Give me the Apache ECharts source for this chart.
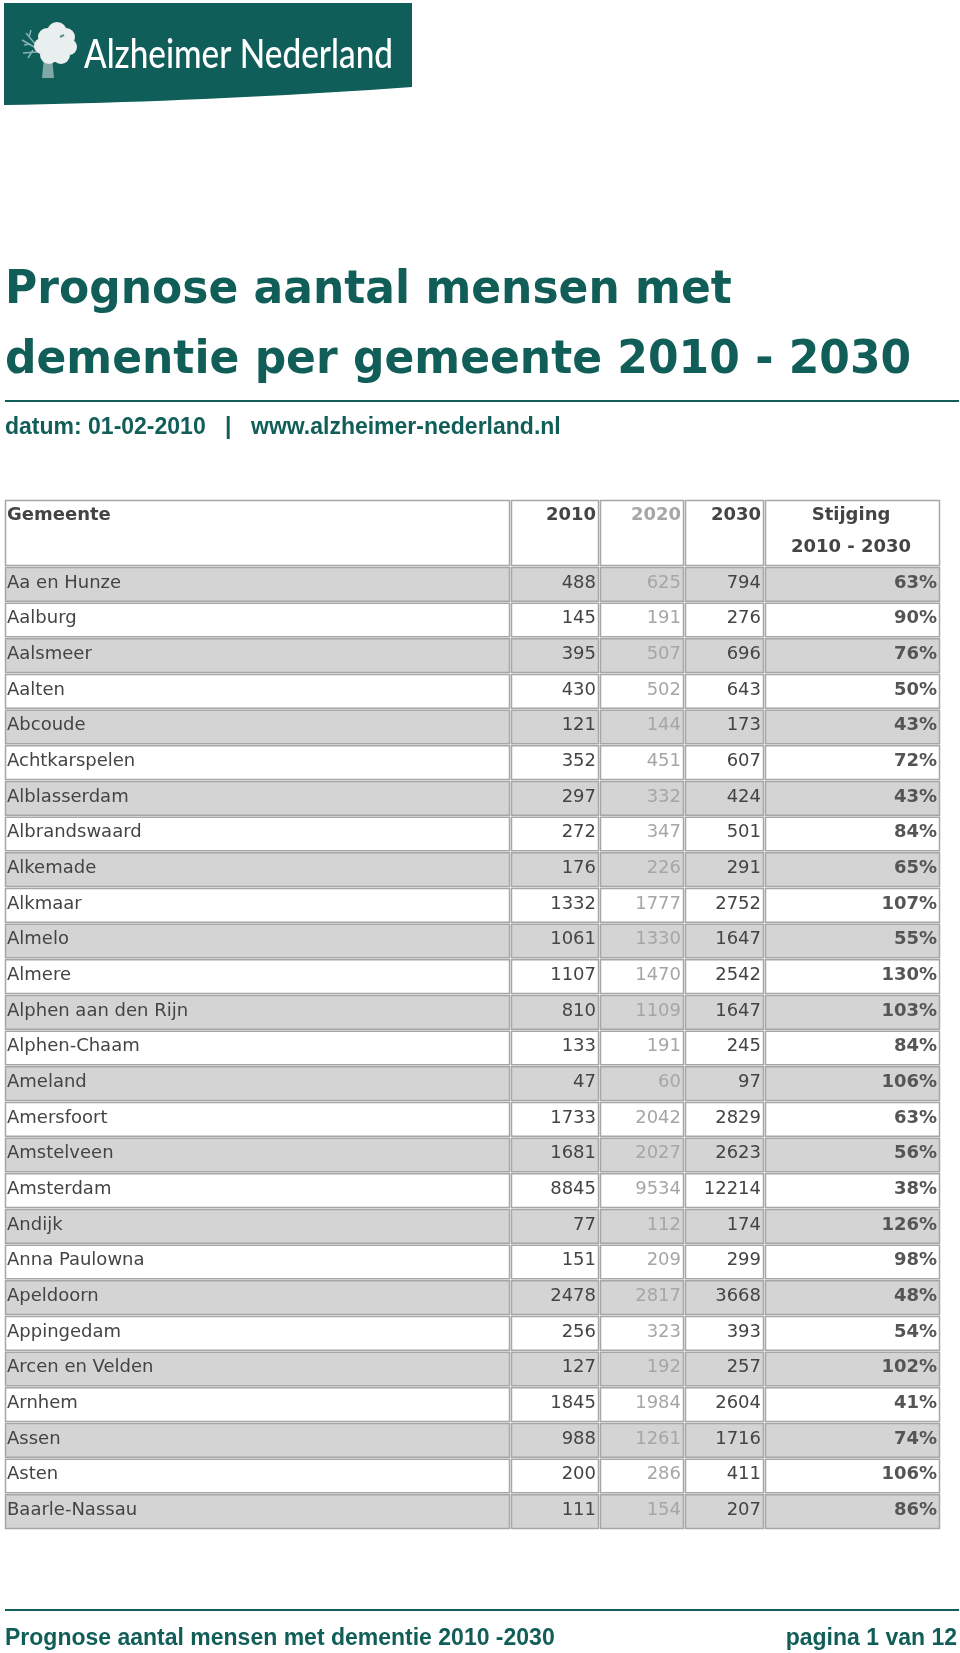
<!DOCTYPE html>
<html><head><meta charset="utf-8">
<script src="https://cdn.jsdelivr.net/npm/echarts@6/dist/echarts.min.js"></script>
<style>html,body{margin:0;padding:0;background:#fff}#c{width:960px;height:1653px}</style>
</head><body><div id="c"></div><script>
// ---- data ----
const gemeenten = ['Aa en Hunze','Aalburg','Aalsmeer','Aalten','Abcoude','Achtkarspelen','Alblasserdam','Albrandswaard','Alkemade','Alkmaar','Almelo','Almere','Alphen aan den Rijn','Alphen-Chaam','Ameland','Amersfoort','Amstelveen','Amsterdam','Andijk','Anna Paulowna','Apeldoorn','Appingedam','Arcen en Velden','Arnhem','Assen','Asten','Baarle-Nassau'];
const v2010 = [488,145,395,430,121,352,297,272,176,1332,1061,1107,810,133,47,1733,1681,8845,77,151,2478,256,127,1845,988,200,111];
const v2020 = [625,191,507,502,144,451,332,347,226,1777,1330,1470,1109,191,60,2042,2027,9534,112,209,2817,323,192,1984,1261,286,154];
const v2030 = [794,276,696,643,173,607,424,501,291,2752,1647,2542,1647,245,97,2829,2623,12214,174,299,3668,393,257,2604,1716,411,207];
const stijging = [63,90,76,50,43,72,43,84,65,107,55,130,103,84,106,63,56,38,126,98,48,54,102,41,74,106,86];
const headers = ['Gemeente','2010','2020','2030','Stijging','2010 - 2030'];
const titleLines = ['Prognose aantal mensen met','dementie per gemeente 2010 - 2030'];
const subLeft = 'datum: 01-02-2010', subSep = '|', subUrl = 'www.alzheimer-nederland.nl';
const footerLeft = 'Prognose aantal mensen met dementie 2010 -2030', footerRight = 'pagina 1 van 12';
const logoText = 'Alzheimer Nederland';

// ---- layout ----
const TEAL = '#115e59';
const TL = 5, TW = 936, HEAD_TOP = 500, BODY_TOP = 567, BODY_H = 963;
const edges = [0, 506, 595, 680, 760, 936];
const BORDER = '#a6a6a6', GRAY = '#d4d4d4', TXT = '#444', LIGHT = '#a6a6a6';
const F = '18px "DejaVu Sans"', FB = 'bold 18px "DejaVu Sans"';

const mctx = document.createElement('canvas').getContext('2d');
function measure(t, f){ mctx.font = f; return mctx.measureText(t).width; }

const chart = echarts.init(document.getElementById('c'), null, {renderer:'canvas'});

const graphics = [];
// logo box with curved bottom edge
const logoPts = [[4,3],[412,3],[412,87]];
for (let s = 1; s <= 20; s++) {
  const t = s/20, a = (1-t)*(1-t), b = 2*t*(1-t), d = t*t;
  logoPts.push([a*412 + b*200 + d*4, a*87 + b*102 + d*105]);
}
graphics.push({type:'polygon', shape:{points:logoPts}, style:{fill:'#0f5e5a'}});
// tree branches
[[36,48,22,40],[36,45,26,33],[37,52,23,53],[30,44,24,45],[29,37,31,30],[33,50,28,58]].forEach(l=>{
  graphics.push({type:'line', shape:{x1:l[0],y1:l[1],x2:l[2],y2:l[3]}, style:{stroke:'#86b3b0', lineWidth:1.5}});
});
graphics.push({type:'polygon', shape:{points:[[44,57],[52,57],[54,78],[42,78]]}, style:{fill:'#7fa8a6'}});
[[47,37,9],[57,32,10],[66,37,9],[69,47,8],[61,55,9],[49,55,9],[42,46,8],[55,45,12]].forEach(c=>{
  graphics.push({type:'circle', shape:{cx:c[0],cy:c[1],r:c[2]}, style:{fill:'#e9eeee'}});
});
graphics.push({type:'line', shape:{x1:60,y1:37,x2:64,y2:35}, style:{stroke:'#5d8f8c', lineWidth:2}});
const logoFont = '500 41px Lato';
graphics.push({type:'text', x:84, y:55, scaleX: 309/measure(logoText, logoFont), style:{text:logoText, x:0, y:0, font:logoFont, fill:'#fff', verticalAlign:'middle'}});

// title
const titleFont = 'bold 44px "DejaVu Sans"';
graphics.push({type:'text', y:291, scaleY:1.04, style:{text:titleLines[0], x:5, y:0, font:titleFont, fill:TEAL, verticalAlign:'middle'}});
graphics.push({type:'text', y:361, scaleY:1.04, style:{text:titleLines[1], x:5, y:0, font:titleFont, fill:TEAL, verticalAlign:'middle'}});
graphics.push({type:'rect', shape:{x:5, y:400, width:954, height:2}, style:{fill:TEAL}});
const subFont = 'bold 23px "Liberation Sans"';
graphics.push({type:'text', style:{text:subLeft, x:5, y:428, font:subFont, fill:TEAL, verticalAlign:'middle'}});
graphics.push({type:'text', style:{text:subSep, x:225, y:428, font:subFont, fill:TEAL, verticalAlign:'middle'}});
graphics.push({type:'text', style:{text:subUrl, x:251, y:428, font:subFont, fill:TEAL, verticalAlign:'middle'}});

// header cells
for (let k = 0; k < 5; k++) {
  const x0 = TL + edges[k], x1 = TL + edges[k+1];
  graphics.push({type:'rect', shape:{x:x0+0.5, y:HEAD_TOP+0.5, width:x1-x0-2, height:BODY_TOP-HEAD_TOP-2}, style:{fill:'#fff', stroke:BORDER, lineWidth:1.5}});
}
graphics.push({type:'text', style:{text:headers[0], x:TL+edges[0]+2, y:515, font:FB, fill:TXT, verticalAlign:'middle'}});
for (let k = 1; k <= 3; k++) {
  graphics.push({type:'text', style:{text:headers[k], x:TL+edges[k+1]-4, y:515, font:FB, fill:k===2?LIGHT:TXT, align:'right', verticalAlign:'middle'}});
}
const cx4 = TL + (edges[4]+edges[5])/2 - 2;
graphics.push({type:'text', style:{text:headers[4], x:cx4, y:515, font:FB, fill:TXT, align:'center', verticalAlign:'middle'}});
graphics.push({type:'text', style:{text:headers[5], x:cx4, y:547, font:FB, fill:TXT, align:'center', verticalAlign:'middle'}});

// footer
graphics.push({type:'rect', shape:{x:5, y:1609, width:954, height:2}, style:{fill:TEAL}});
const footFont = 'bold 23px "Liberation Sans"';
graphics.push({type:'text', style:{text:footerLeft, x:5, y:1639, font:footFont, fill:TEAL, verticalAlign:'middle'}});
graphics.push({type:'text', style:{text:footerRight, x:957, y:1639, font:footFont, fill:TEAL, align:'right', verticalAlign:'middle'}});

function renderRow(params, api) {
  const i = api.value(0);
  const c = api.coord([0, i]);
  const h = api.size([0, 1])[1];
  const top = c[1] - h/2;
  const fill = i % 2 === 0 ? GRAY : '#fff';
  const children = [];
  const cols = [gemeenten[i], String(v2010[i]), String(v2020[i]), String(v2030[i]), stijging[i] + '%'];
  for (let k = 0; k < 5; k++) {
    const x0 = api.coord([edges[k], i])[0];
    const x1 = api.coord([edges[k+1], i])[0];
    children.push({type:'rect', shape:{x:x0+0.5, y:top+0.5, width:x1-x0-2, height:h-2}, style:{fill:fill, stroke:BORDER, lineWidth:1.5}});
    const ty = c[1] - 2;
    if (k === 0) {
      children.push({type:'text', style:{text:cols[k], x:x0+2, y:ty, font:F, fill:TXT, verticalAlign:'middle'}});
    } else {
      children.push({type:'text', style:{text:cols[k], x:x1-4, y:ty, font:k===4?FB:F, fill:k===2?LIGHT:(k===4?'#555':TXT), align:'right', verticalAlign:'middle'}});
    }
  }
  return {type:'group', children};
}

chart.setOption({
  animation:false,
  grid:{left:TL, top:BODY_TOP, width:TW, height:BODY_H, containLabel:false},
  xAxis:{type:'value', min:0, max:TW, show:false},
  yAxis:{type:'category', data:gemeenten, inverse:true, show:false},
  graphic:{elements:graphics},
  series:[{type:'custom', coordinateSystem:'cartesian2d', renderItem:renderRow,
    data: gemeenten.map((g,i)=>[i]), encode:{y:0}, silent:true}]
});
</script></body></html>
